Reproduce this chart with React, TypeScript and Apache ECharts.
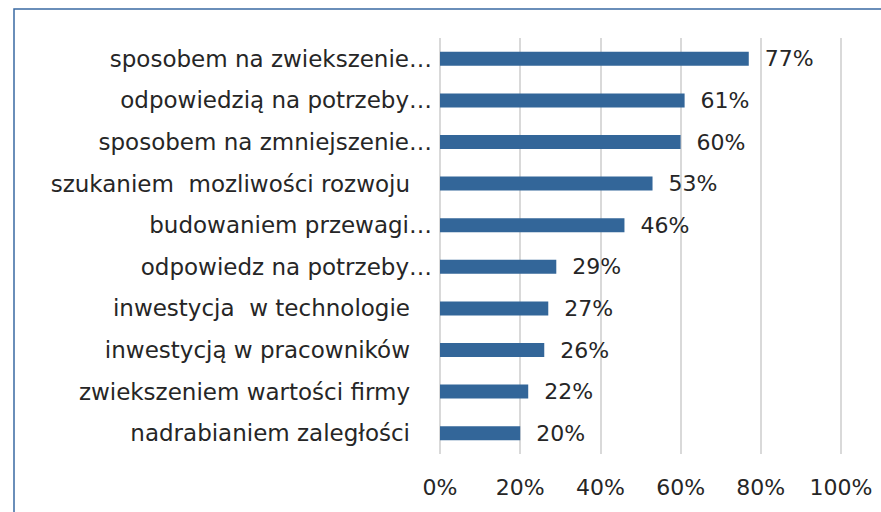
import React, { useEffect, useRef } from "react";
import * as echarts from "echarts";

const categories = [
  "sposobem na zwiekszenie…",
  "odpowiedzią na potrzeby…",
  "sposobem na zmniejszenie…",
  "szukaniem\u00a0 mozliwości rozwoju",
  "budowaniem przewagi…",
  "odpowiedz na potrzeby…",
  "inwestycja\u00a0 w technologie",
  "inwestycją w pracowników",
  "zwiekszeniem wartości firmy",
  "nadrabianiem zaległości",
];
const values = [77, 61, 60, 53, 46, 29, 27, 26, 22, 20];
const xTicks = [0, 20, 40, 60, 80, 100];

const FONT = "DejaVu Sans";
const TEXT = "#262626";

export default function App() {
  const ref = useRef<HTMLDivElement>(null);
  useEffect(() => {
    if (!ref.current) return;
    const chart = echarts.init(ref.current, null, { renderer: "svg" });
    chart.setOption({
      animation: false,
      backgroundColor: "#ffffff",
      graphic: [
        {
          type: "rect",
          shape: { x: 14, y: 9, width: 1000, height: 700 },
          style: { fill: "none", stroke: "#3a6aa3", lineWidth: 1.5 },
          silent: true,
        },
      ],
      grid: { left: 440, top: 38, width: 401, height: 416, containLabel: false },
      xAxis: {
        type: "value",
        min: xTicks[0],
        max: xTicks[xTicks.length - 1],
        interval: 20,
        axisLine: { show: false },
        axisTick: { show: false },
        splitLine: { show: true, lineStyle: { color: "#d9d9d9", width: 2 } },
        axisLabel: {
          formatter: "{value}%",
          color: TEXT,
          fontFamily: FONT,
          fontSize: 22,
          margin: 22,
        },
      },
      yAxis: {
        type: "category",
        data: categories,
        inverse: true,
        axisLine: { show: false },
        axisTick: { show: false },
        axisLabel: {
          color: TEXT,
          fontFamily: FONT,
          fontSize: 23,
          margin: 8,
          formatter: (v: string) => (v.endsWith("…") ? `{a|${v}}` : `{b|${v}}`),
          rich: {
            a: { color: TEXT, fontFamily: FONT, fontSize: 23 },
            b: { color: TEXT, fontFamily: FONT, fontSize: 23, padding: [0, 22, 0, 0] },
          },
        },
      },
      series: [
        {
          type: "bar",
          data: values,
          barWidth: 14,
          itemStyle: { color: "#336699" },
          label: {
            show: true,
            position: "right",
            distance: 16,
            formatter: "{c}%",
            color: TEXT,
            fontFamily: FONT,
            fontSize: 22,
          },
        },
      ],
    });
    return () => chart.dispose();
  }, []);
  return (
    <div
      ref={ref}
      style={{ position: "fixed", left: 0, top: 0, width: 881, height: 512 }}
    />
  );
}
